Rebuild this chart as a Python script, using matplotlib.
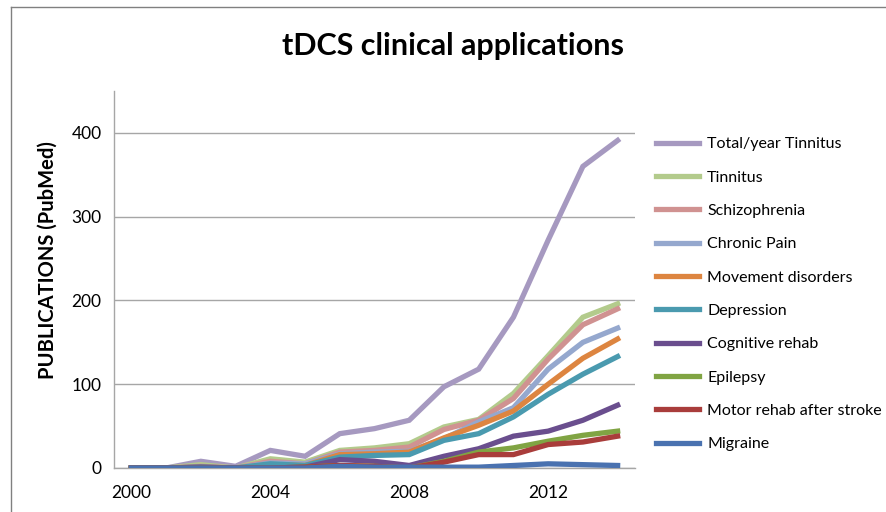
import matplotlib.pyplot as plt
from matplotlib.lines import Line2D

plt.rcParams['font.family'] = ['Lato', 'DejaVu Sans']

years = list(range(2000, 2015))
series_names = ["Total/year Tinnitus", "Tinnitus", "Schizophrenia", "Chronic Pain",
                "Movement disorders", "Depression", "Cognitive rehab", "Epilepsy",
                "Motor rehab after stroke", "Migraine"]

total = [0, 0, 8, 2, 21, 14, 41, 47, 57, 97, 118, 180, 272, 360, 391]
tinnitus = [0, 0, 4, 0, 11, 7, 21, 24, 29, 49, 58, 89, 134, 180, 196]
schizophrenia = [0, 0, 2, 0, 8, 5, 19, 21, 25, 46, 57, 83, 130, 171, 190]
chronic_pain = [0, 0, 1, 0, 6, 5, 17, 19, 20, 35, 55, 72, 118, 150, 167]
movement = [0, 0, 1, 0, 4, 3, 16, 17, 19, 36, 51, 68, 100, 131, 154]
depression = [0, 0, 1, 0, 5, 3, 13, 15, 16, 33, 41, 61, 88, 112, 133]
cognitive = [0, 0, 1, 0, 0, 1, 10, 8, 3, 14, 23, 38, 44, 57, 75]
epilepsy = [0, 0, 0, 0, 0, 1, 3, 2, 0, 8, 19, 24, 32, 39, 44]
motor = [0, 0, 0, 0, 0, 1, 3, 2, 0, 7, 16, 16, 28, 31, 38]
migraine = [0, 0, 0, 0, 0, 0, 2, 1, 1, 1, 1, 3, 5, 4, 3]

all_series = [total, tinnitus, schizophrenia, chronic_pain, movement,
              depression, cognitive, epilepsy, motor, migraine]
colors = ["#A699C0", "#B3CB8C", "#D09291", "#95A8CE", "#DD8540",
          "#4A9AAF", "#6A4E8E", "#80A443", "#A93D3B", "#4A72B0"]

fig = plt.figure(figsize=(8.87, 5.12), dpi=100)
ax = fig.add_axes([114 / 887, 1 - 468 / 512, (635 - 114) / 887, (468 - 91) / 512])

for i, (name, vals, col) in enumerate(zip(series_names, all_series, colors)):
    ax.plot(years, vals, color=col, linewidth=3.8, label=name, zorder=2 + i,
            solid_joinstyle='miter')

ax.set_xlim(1999.5, 2014.5)
ax.set_ylim(0, 450)
ax.set_yticks([0, 100, 200, 300, 400])
ax.set_xticks([2000, 2004, 2008, 2012])
ax.tick_params(length=0, labelsize=12.5, colors='black')
ax.tick_params(axis='y', pad=9)
ax.tick_params(axis='x', pad=12)
ax.grid(axis='y', color='#A6A6A6', linewidth=1)
ax.set_axisbelow(True)
for s in ['top', 'right']:
    ax.spines[s].set_visible(False)
for s in ['left', 'bottom']:
    ax.spines[s].set_color('#A6A6A6')
    ax.spines[s].set_linewidth(1)

fig.text(48 / 887, 1 - 260 / 512, "PUBLICATIONS (PubMed)", fontsize=14.5,
         fontweight='bold', rotation=90, ha='center', va='center')

fig.text(453 / 887, 1 - 46 / 512, "tDCS clinical applications", fontsize=22,
         fontweight='bold', ha='center', va='center')

fig.legend(loc='upper left', bbox_to_anchor=(656 / 887, 1 - 137 / 512),
           frameon=False, fontsize=11.5, labelspacing=1.2, handlelength=2.7,
           handletextpad=0.5, borderpad=0, borderaxespad=0)

# chart border
fig.add_artist(Line2D([11 / 887, 11 / 887], [0, 1 - 7 / 512], color='#808080', linewidth=1))
fig.add_artist(Line2D([11 / 887, 1], [1 - 7 / 512, 1 - 7 / 512], color='#808080', linewidth=1))

fig.savefig("out.png", dpi=100)
